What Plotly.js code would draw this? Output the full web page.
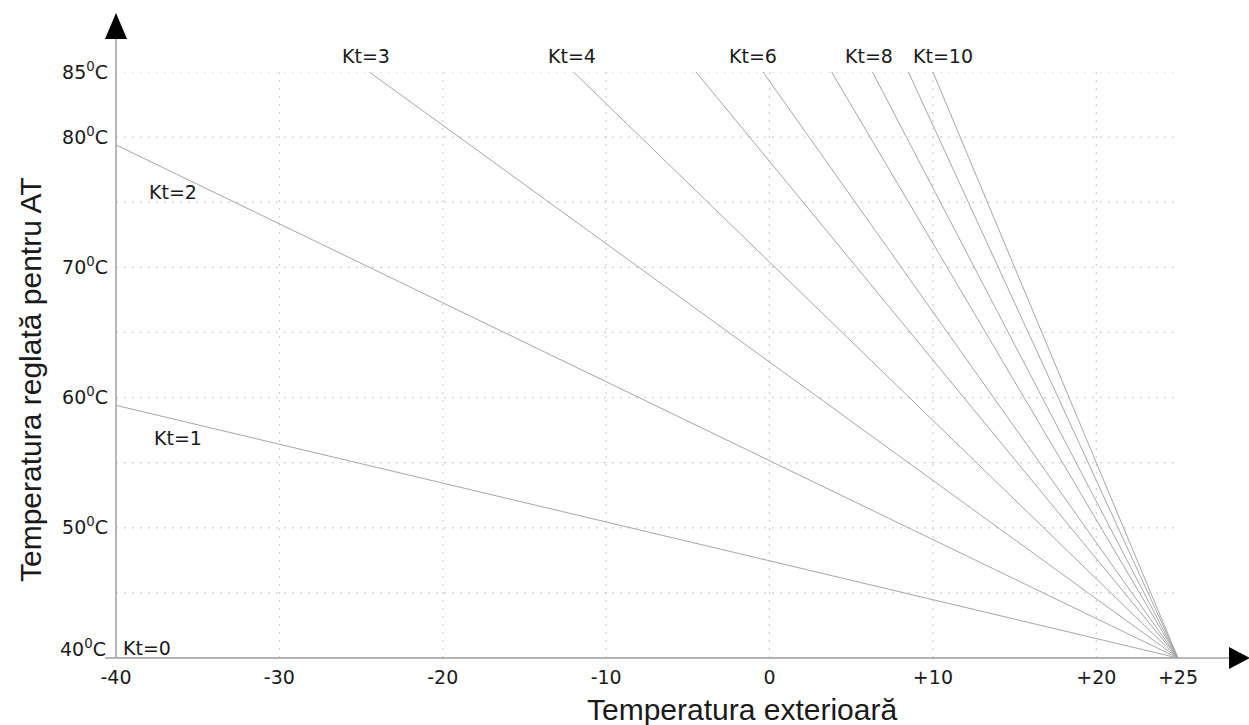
<!DOCTYPE html>
<html>
<head>
<meta charset="utf-8">
<script src="https://cdn.plot.ly/plotly-3.0.1.min.js"></script>
<style>html,body{margin:0;padding:0;background:#fff}#chart{width:1249px;height:725px}</style>
</head>
<body>
<div id="chart"></div>
<script>
// Heating curves: each Kt line runs from a start point to the common end (+25, 40)
const ktValues = [0, 1, 2, 3, 4, 5, 6, 7, 8, 9, 10];
const xStart   = [-40, -40, -40, -24.5, -12.0, -4.5, -0.4, 3.8, 6.3, 8.5, 10.0];
const yStart   = [40, 59.4, 79.4, 85, 85, 85, 85, 85, 85, 85, 85];
const xEnd = 25;
const yEnd = 40;

// Axis ticks
const xTickVals = [-40, -30, -20, -10, 0, 10, 20, 25];
const xTickText = ['-40', '-30', '-20', '-10', '0', '+10', '+20', '+25'];
const yTickVals = [50, 60, 70, 80, 85];
const yTickText = ['50<sup>0</sup>C', '60<sup>0</sup>C', '70<sup>0</sup>C', '80<sup>0</sup>C', '85<sup>0</sup>C'];
const yBottomLabel = '40<sup>0</sup>C';

// Grid lines
const xGrid = [-30, -20, -10, 0, 10, 20];
const yGrid = [45, 50, 55, 60, 65, 70, 75, 80, 85];

// Curve labels inside the plot (data units)
const innerLabelText = ['Kt=0', 'Kt=1', 'Kt=2'];
const innerLabelX    = [-38.1, -36.2, -36.5];
const innerLabelY    = [40.75, 56.9, 75.8];
// Curve labels above the top edge (x in data units)
const topLabelText = ['Kt=3', 'Kt=4', 'Kt=6', 'Kt=8', 'Kt=10'];
const topLabelX    = [-24.7, -12.1, -1.0, 6.1, 10.6];

const xTitle = 'Temperatura exterioară';
const yTitle = 'Temperatura reglată pentru AT';

const lineColor = '#a6a6a6';
const gridColor = '#cfcfcf';
const axisColor = '#a0a0a0';
const textColor = '#1a1a1a';
const labelFont = {family: 'DejaVu Sans', size: 19, color: textColor};

const traces = ktValues.map((k, i) => ({
  type: 'scatter',
  mode: 'lines',
  x: [xStart[i], xEnd],
  y: [yStart[i], yEnd],
  name: 'Kt=' + k,
  line: {color: lineColor, width: 1},
  hoverinfo: 'skip',
  cliponaxis: false
}));

// plot area 116..1178 x 72..658 px
const W = 1062, H = 586;
const px = p => (p - 116) / W;
const py = p => (658 - p) / H;

const shapes = [];
xGrid.forEach(v => shapes.push({type: 'line', xref: 'x', yref: 'y', x0: v, x1: v, y0: 40, y1: 85,
  line: {color: gridColor, width: 1.2, dash: '2px,6px'}, layer: 'below'}));
yGrid.forEach(v => shapes.push({type: 'line', xref: 'x', yref: 'y', x0: -40, x1: 25, y0: v, y1: v,
  line: {color: gridColor, width: 1.2, dash: '2px,6px'}, layer: 'below'}));

shapes.push({type: 'line', xref: 'paper', yref: 'paper', x0: 0, x1: 0, y0: 0, y1: py(38),
  line: {color: axisColor, width: 1.5}});
shapes.push({type: 'line', xref: 'paper', yref: 'paper', x0: px(105), x1: px(1232), y0: 0, y1: 0,
  line: {color: axisColor, width: 1.5}});
shapes.push({type: 'path', xref: 'paper', yref: 'paper',
  path: `M ${px(105)} ${py(39)} L ${px(116)} ${py(13)} L ${px(127)} ${py(39)} Z`,
  fillcolor: '#000', line: {color: '#000', width: 0}});
shapes.push({type: 'path', xref: 'paper', yref: 'paper',
  path: `M ${px(1229)} ${py(647)} L ${px(1250)} ${py(658)} L ${px(1229)} ${py(669)} Z`,
  fillcolor: '#000', line: {color: '#000', width: 0}});

const annotations = innerLabelText.map((t, i) => ({
  x: innerLabelX[i], y: innerLabelY[i], xref: 'x', yref: 'y', text: t, showarrow: false,
  font: labelFont
}));
topLabelText.forEach((t, i) => annotations.push({
  x: topLabelX[i], y: py(56), xref: 'x', yref: 'paper', text: t, showarrow: false,
  yanchor: 'middle', font: labelFont
}));
annotations.push({x: px(108), y: py(648), xref: 'paper', yref: 'paper', text: yBottomLabel,
  showarrow: false, xanchor: 'right', yanchor: 'middle', font: labelFont});
annotations.push({x: px(742), y: py(709), xref: 'paper', yref: 'paper', text: xTitle,
  showarrow: false, xanchor: 'center', yanchor: 'middle',
  font: {family: 'Liberation Sans', size: 30, color: textColor}});
annotations.push({x: px(30), y: py(380), xref: 'paper', yref: 'paper', text: yTitle,
  showarrow: false, xanchor: 'center', yanchor: 'middle', textangle: -90,
  font: {family: 'Liberation Sans', size: 30, color: textColor}});

const layout = {
  width: 1249, height: 725,
  margin: {l: 116, r: 71, t: 72, b: 67},
  paper_bgcolor: '#fff', plot_bgcolor: '#fff',
  showlegend: false,
  xaxis: {
    range: [-40, 25], tickvals: xTickVals, ticktext: xTickText,
    showgrid: false, zeroline: false, showline: false, ticks: '',
    ticklabelstandoff: 6,
    tickfont: labelFont
  },
  yaxis: {
    range: [40, 85], tickvals: yTickVals, ticktext: yTickText,
    showgrid: false, zeroline: false, showline: false, ticks: '',
    ticklabelstandoff: 7,
    tickfont: labelFont
  },
  shapes: shapes,
  annotations: annotations
};

Plotly.newPlot('chart', traces, layout, {displayModeBar: false, staticPlot: true});
</script>
</body>
</html>
